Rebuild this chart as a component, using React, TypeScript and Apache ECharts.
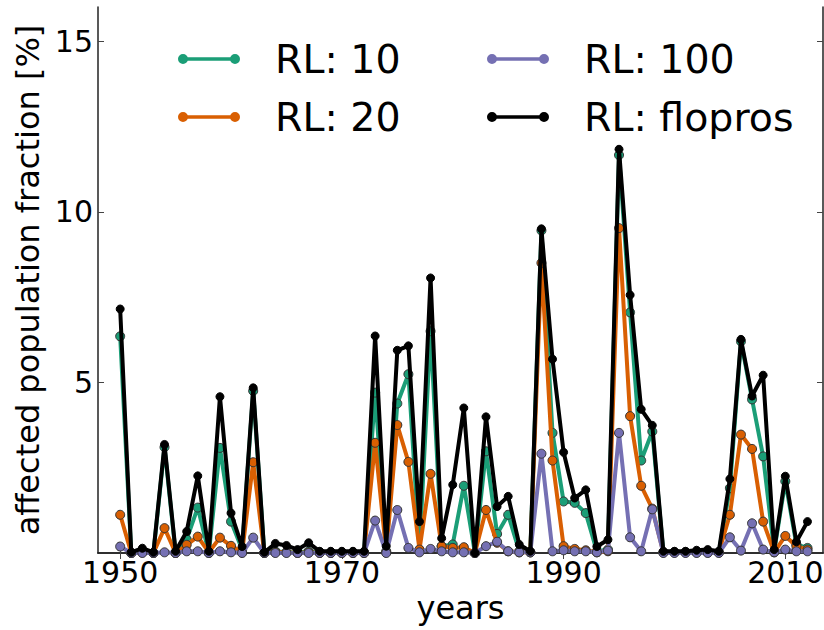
import React, { useEffect, useRef } from "react";
import * as echarts from "echarts";

const years: number[] = [];
for (let y = 1950; y <= 2012; y++) years.push(y);

const rl10 = [
  6.35, 0, 0.05, 0, 3.1, 0, 0.4, 1.33, 0, 3.08, 0.92, 0.1, 4.75, 0,
  0.05, 0.02, 0.02, 0.05, 0.02, 0.02, 0.02, 0.02, 0.02,
  4.7, 0.05, 4.38, 5.24, 0.1, 6.5, 0.2, 0.25, 1.97, 0, 2.98, 0.56, 1.12, 0.05, 0.02,
  9.45, 3.52, 1.51, 1.47, 1.17, 0.05, 0.1, 11.66, 7.05, 2.71, 3.56, 0.02,
  0.02, 0.02, 0.02, 0.02, 0.02, 1.9, 6.2, 4.5, 2.83, 0.05, 2.1, 0.25, 0.15,
];

const rl20 = [
  1.12, 0, 0.02, 0, 0.73, 0, 0.24, 0.48, 0.02, 0.45, 0.21, 0.02, 2.66, 0,
  0.02, 0.02, 0, 0.02, 0, 0, 0, 0, 0,
  3.23, 0.02, 3.75, 2.67, 0.1, 2.32, 0.2, 0.15, 0.17, 0, 1.26, 0.3, 0.05, 0.02, 0.02,
  8.5, 2.71, 0.2, 0.12, 0.08, 0.02, 0.05, 9.52, 4.01, 1.97, 1.3, 0.02,
  0.02, 0.02, 0.02, 0.02, 0.02, 1.12, 3.47, 3.05, 0.92, 0.02, 0.5, 0.2, 0.1,
];

const rl100 = [
  0.19, 0, 0, 0, 0.02, 0, 0.05, 0.05, 0, 0.05, 0.02, 0, 0.45, 0,
  0, 0, 0, 0, 0, 0, 0, 0, 0,
  0.95, 0, 1.26, 0.15, 0.02, 0.12, 0.05, 0.02, 0.02, 0, 0.2, 0.33, 0.05, 0.02, 0.02,
  2.91, 0.05, 0.08, 0.05, 0.05, 0.02, 0.07, 3.52, 0.46, 0.05, 1.28, 0,
  0, 0, 0, 0, 0, 0.46, 0.07, 0.87, 0.1, 0.02, 0.1, 0.05, 0.05,
];

const flopros = [
  7.15, 0.02, 0.14, 0.02, 3.18, 0.05, 0.63, 2.26, 0.05, 4.58, 1.17, 0.19, 4.84, 0.02,
  0.28, 0.22, 0.1, 0.3, 0.05, 0.05, 0.05, 0.05, 0.05,
  6.36, 0.2, 5.94, 6.07, 0.92, 8.06, 0.43, 2.0, 4.25, 0, 3.99, 1.36, 1.66, 0.25, 0.05,
  9.5, 5.68, 2.95, 1.61, 1.85, 0.19, 0.39, 11.83, 7.56, 4.21, 3.74, 0.05,
  0.05, 0.05, 0.08, 0.1, 0.05, 2.17, 6.26, 4.6, 5.21, 0.1, 2.25, 0.33, 0.92,
];

const xTicks = [1950, 1970, 1990, 2010];
const yTicks = [5, 10, 15];

const seriesNames = ["RL: 10", "RL: 20", "RL: 100", "RL: flopros"];
const seriesColors = ["#1b9e77", "#d95f02", "#7570b3", "#000000"];
const seriesValues = [rl10, rl20, rl100, flopros];

const FONT = "DejaVu Sans";
const ICON =
  "path://M0,5a5,5 0 1,1 10,0a5,5 0 1,1 -10,0Z M52,5a5,5 0 1,1 10,0a5,5 0 1,1 -10,0Z M9,3.2L53,3.2L53,6.8L9,6.8Z";

export default function App() {
  const ref = useRef<HTMLDivElement>(null);

  useEffect(() => {
    if (!ref.current) return;
    const chart = echarts.init(ref.current, undefined, { renderer: "svg" });

    const axisLine = { show: true, lineStyle: { color: "#222", width: 1.5 } };
    const tickStyle = { color: "#444", width: 1 };

    const legendCommon = {
      orient: "vertical" as const,
      top: 34,
      itemWidth: 62,
      itemHeight: 10,
      itemGap: 18,
      icon: ICON,
      itemStyle: { borderWidth: 0 },
      textStyle: {
        fontSize: 39.5,
        fontFamily: FONT,
        color: "#000",
        lineHeight: 40,
        padding: [0, 0, 0, 30],
      },
    };

    chart.setOption({
      animation: false,
      backgroundColor: "#fff",
      grid: {
        left: 98,
        right: 1,
        top: 7,
        bottom: 77,
        containLabel: false,
        outerBoundsMode: "none",
      },
      legend: [
        { ...legendCommon, left: 173, data: [seriesNames[0], seriesNames[1]] },
        { ...legendCommon, left: 482, data: [seriesNames[2], seriesNames[3]] },
      ],
      xAxis: [
        {
          type: "value",
          min: 1948,
          max: 2013.4,
          position: "bottom",
          axisLine,
          splitLine: { show: false },
          axisTick: {
            show: true,
            inside: true,
            length: 6,
            customValues: xTicks,
            lineStyle: tickStyle,
          },
          axisLabel: {
            customValues: xTicks,
            formatter: (v: number) => String(v),
            fontSize: 30,
            fontFamily: FONT,
            color: "#000",
            margin: 4,
          },
          name: "years",
          nameLocation: "middle",
          nameGap: 35,
          nameTextStyle: { fontSize: 32, fontFamily: FONT, color: "#000" },
        },
        {
          type: "value",
          min: 1948,
          max: 2013.4,
          position: "top",
          axisLine,
          splitLine: { show: false },
          axisTick: {
            show: true,
            inside: true,
            length: 6,
            customValues: xTicks,
            lineStyle: tickStyle,
          },
          axisLabel: { show: false },
        },
      ],
      yAxis: [
        {
          type: "value",
          min: 0,
          max: 16,
          position: "left",
          axisLine,
          splitLine: { show: false },
          axisTick: {
            show: true,
            inside: true,
            length: 6,
            customValues: yTicks,
            lineStyle: tickStyle,
          },
          axisLabel: {
            customValues: yTicks,
            formatter: (v: number) => String(v),
            fontSize: 30,
            fontFamily: FONT,
            color: "#000",
            margin: 5,
          },
          name: "affected population fraction [%]",
          nameLocation: "middle",
          nameRotate: 90,
          nameGap: 50,
          nameTextStyle: { fontSize: 32, fontFamily: FONT, color: "#000" },
        },
        {
          type: "value",
          min: 0,
          max: 16,
          position: "right",
          axisLine,
          splitLine: { show: false },
          axisTick: {
            show: true,
            inside: true,
            length: 6,
            customValues: yTicks,
            lineStyle: tickStyle,
          },
          axisLabel: { show: false },
        },
      ],
      series: seriesNames.map((name, i) => ({
        name,
        type: "line",
        xAxisIndex: 0,
        yAxisIndex: 0,
        data: years.map((yr, j) => [yr, seriesValues[i][j]]),
        symbol: "circle",
        symbolSize: i === 3 ? 8 : 9,
        showSymbol: true,
        color: seriesColors[i],
        lineStyle: { width: 4, color: seriesColors[i] },
        itemStyle: {
          color: seriesColors[i],
          borderColor: i === 3 ? "#000" : "#333",
          borderWidth: 1,
        },
        z: 2 + i,
        emphasis: { disabled: true },
      })),
    });

    return () => chart.dispose();
  }, []);

  return (
    <div
      ref={ref}
      style={{ position: "fixed", left: 0, top: 0, width: 824, height: 630 }}
    />
  );
}
